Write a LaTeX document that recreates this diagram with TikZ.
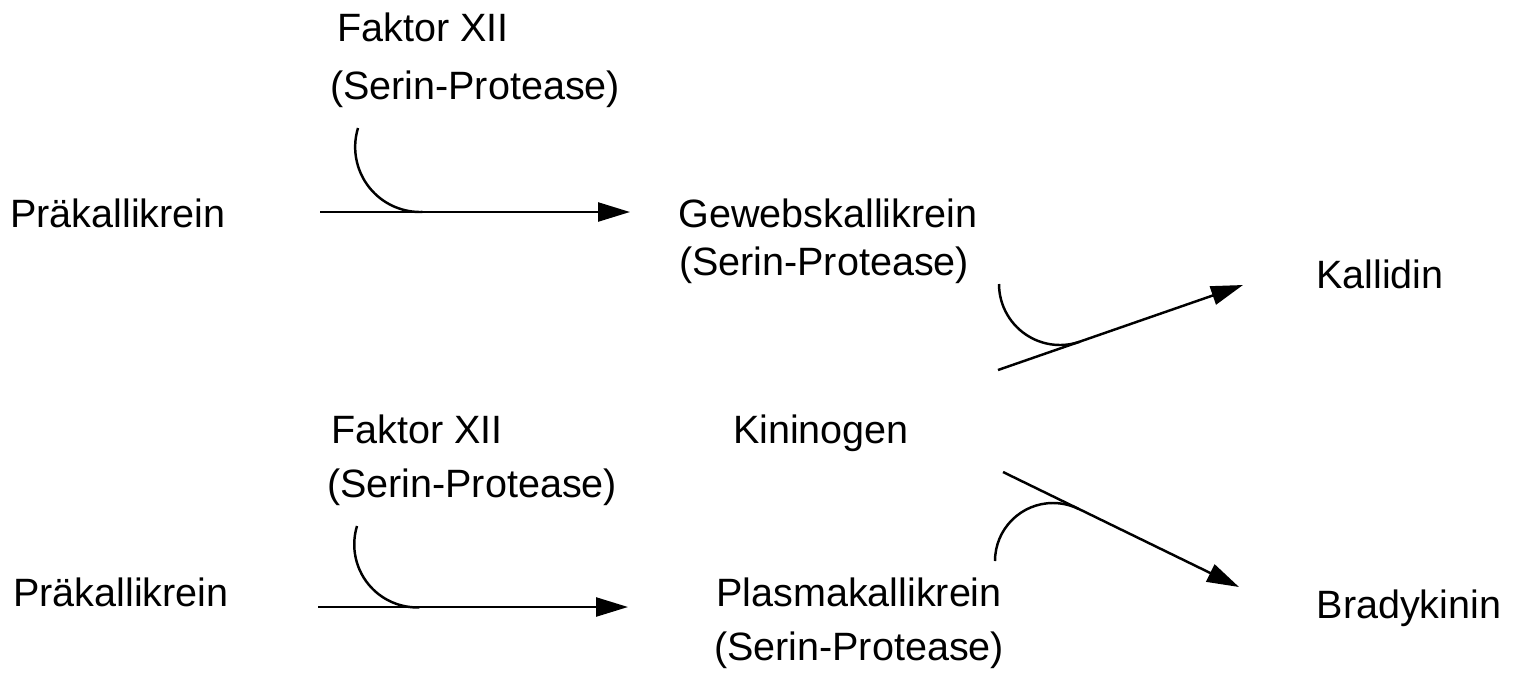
\documentclass[tikz,border=0pt]{standalone}
\usepackage{fontspec}
\setmainfont{Liberation Sans}
\usetikzlibrary{arrows.meta}

\begin{document}
\begin{tikzpicture}[
  x=0.02cm,y=-0.02cm,>={Triangle[length=6.4mm,width=3.8mm]},
  label/.style={anchor=base,inner sep=0pt,font=\fontsize{22.5}{27}\selectfont},
  react/.style={->,line width=1.4pt},
  enzyme/.style={line width=1.4pt}
]
\useasboundingbox (0,0) rectangle (1538,694);
% upper path
\node[label] (fa1)  at (423,41)  {Faktor XII};
\node[label] (sp1)  at (475,99)  {(Serin-Protease)};
\node[label] (pk1)  at (118,227) {Präkallikrein};
\node[label] (gk)   at (828,227) {Gewebskallikrein};
\node[label] (sp2)  at (824,275) {(Serin-Protease)};
\node[label] (kd)   at (1380,288) {Kallidin};
% lower path
\node[label] (fa2)  at (417,443) {Faktor XII};
\node[label] (sp3)  at (472,497) {(Serin-Protease)};
\node[label] (kn)   at (821,443) {Kininogen};
\node[label] (pk2)  at (121,606) {Präkallikrein};
\node[label] (plk)  at (859,606) {Plasmakallikrein};
\node[label] (sp4)  at (859,660) {(Serin-Protease)};
\node[label] (bk)   at (1409,618) {Bradykinin};
% arrow ends
\coordinate (r1s) at (320,212);  \coordinate (r1e) at (630,212);
\coordinate (r2s) at (998,370);  \coordinate (r2e) at (1243,285);
\coordinate (r3s) at (318,607);  \coordinate (r3e) at (628,607);
\coordinate (r4s) at (1003,472); \coordinate (r4e) at (1239,587);
\draw[react] (r1s) -- (r1e);
\draw[react] (r2s) -- (r2e);
\draw[react] (r3s) -- (r3e);
\draw[react] (r4s) -- (r4e);
% enzyme arcs
\coordinate (e1) at (358,128);
\coordinate (e2) at (999,284);
\coordinate (e3) at (357,526);
\coordinate (e4) at (995,561);
\draw[enzyme] (e1) arc[start angle=197,end angle=88,radius=65];
\draw[enzyme] (e2) arc[start angle=180,end angle=71,radius=61];
\draw[enzyme] (e3) arc[start angle=197,end angle=88,radius=63];
\draw[enzyme] (e4) arc[start angle=180,end angle=296,radius=58];
\end{tikzpicture}
\end{document}
